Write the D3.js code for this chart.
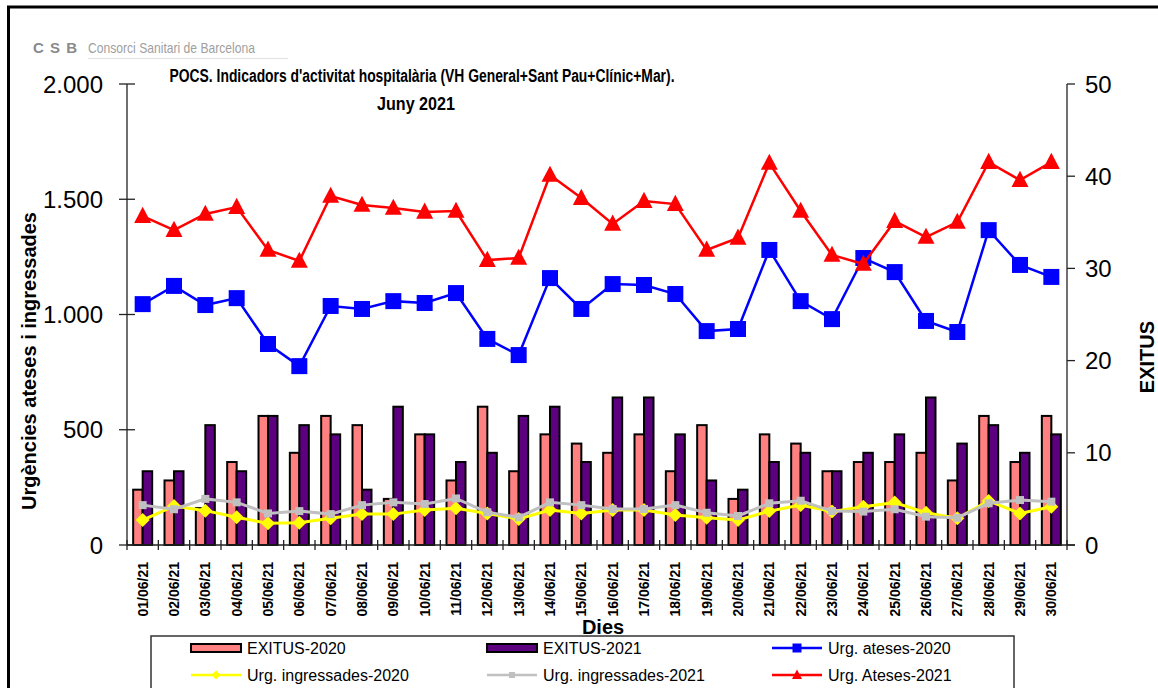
<!DOCTYPE html>
<html>
<head>
<meta charset="utf-8">
<script src="https://cdn.jsdelivr.net/npm/d3@7"></script>
<style>
  body { margin: 0; background: #fff; }
  svg { font-family: 'Liberation Sans', Arial, sans-serif; display: block; }
</style>
</head>
<body>
<script>
// chart values
const days = ['01/06/21','02/06/21','03/06/21','04/06/21','05/06/21','06/06/21','07/06/21','08/06/21','09/06/21','10/06/21',
  '11/06/21','12/06/21','13/06/21','14/06/21','15/06/21','16/06/21','17/06/21','18/06/21','19/06/21','20/06/21',
  '21/06/21','22/06/21','23/06/21','24/06/21','25/06/21','26/06/21','27/06/21','28/06/21','29/06/21','30/06/21']
const exitus2020 = [6, 7, 4, 9, 14, 10, 14, 13, 5, 12, 7, 15, 8, 12, 11, 10, 12, 8, 13, 5, 12, 11, 8, 9, 9, 10, 7, 14, 9, 14]
const exitus2021 = [8, 8, 13, 8, 14, 13, 12, 6, 15, 12, 9, 10, 14, 15, 9, 16, 16, 12, 7, 6, 9, 10, 8, 10, 12, 16, 11, 13, 10, 12]
const ateses2020 = [1045, 1124, 1041, 1071, 872, 776, 1037, 1024, 1058, 1050, 1093, 894, 824, 1158, 1024,
  1132, 1128, 1089, 928, 937, 1280, 1058, 980, 1245, 1184, 972, 924, 1366, 1215, 1163]
const ateses2021 = [1427, 1366, 1436, 1466, 1280, 1232, 1514, 1475, 1462, 1445, 1449, 1236, 1245, 1605, 1505,
  1393, 1492, 1479, 1280, 1332, 1657, 1449, 1258, 1219, 1405, 1336, 1401, 1661, 1583, 1661]
const ingressades2020 = [108, 169, 149, 120, 94, 97, 116, 134, 134, 152, 159, 137, 113, 152, 137,
  152, 152, 130, 118, 108, 147, 173, 145, 166, 184, 140, 116, 191, 137, 166]
const ingressades2021 = [173, 155, 200, 185, 137, 147, 134, 173, 185, 178, 202, 142, 120, 185, 173,
  156, 156, 173, 140, 126, 181, 192, 147, 145, 155, 123, 118, 181, 195, 188]
const leftTicks = [0, 500, 1000, 1500, 2000]
const rightTicks = [0, 10, 20, 30, 40, 50]

const W = 1158, H = 688
const svg = d3.select('body').append('svg')
    .attr('width', W)
    .attr('height', H)

// outer frame
svg.append('rect')
    .attr('x', 8.5).attr('y', 7)
    .attr('width', 1170).attr('height', 720)
    .attr('fill', 'none')
    .attr('stroke', '#000')
    .attr('stroke-width', 3)

// logo
svg.append('text')
    .attr('x', 33).attr('y', 53)
    .style('font-size', '15px').style('font-weight', 'bold')
    .attr('fill', '#8a8a8a')
    .attr('textLength', 44).attr('lengthAdjust', 'spacing')
    .text('C S B')
svg.append('text')
    .attr('x', 88).attr('y', 53)
    .style('font-size', '15px')
    .attr('fill', '#a0a0a0')
    .attr('textLength', 167).attr('lengthAdjust', 'spacingAndGlyphs')
    .text('Consorci Sanitari de Barcelona')
svg.append('line')
    .attr('x1', 88).attr('x2', 288)
    .attr('y1', 58.5).attr('y2', 58.5)
    .attr('stroke', '#e2e2e2')

const x0 = 127, x1 = 1067, yTop = 84, yBot = 545

const xScale = d3.scaleBand()
    .domain(days)
    .range([x0, x1])
    .padding(0)

const yLeft = d3.scaleLinear()
    .domain([0, 2000])
    .range([yBot, yTop])

const yRight = d3.scaleLinear()
    .domain([0, 50])
    .range([yBot, yTop])

// title
svg.append('text')
    .attr('x', 422).attr('y', 82)
    .attr('text-anchor', 'middle')
    .style('font-size', '18px').style('font-weight', 'bold')
    .attr('textLength', 505).attr('lengthAdjust', 'spacingAndGlyphs')
    .text("POCS.  Indicadors d'activitat hospitalària (VH General+Sant Pau+Clínic+Mar).")
svg.append('text')
    .attr('x', 416).attr('y', 110)
    .attr('text-anchor', 'middle')
    .style('font-size', '18px').style('font-weight', 'bold')
    .attr('textLength', 78).attr('lengthAdjust', 'spacingAndGlyphs')
    .text('Juny 2021')

// bars (right axis)
const bw = 9.5
svg.selectAll('.bar2020')
    .data(exitus2020)
    .enter().append('rect')
    .attr('class', 'bar2020')
    .attr('x', (d, i) => xScale(days[i]) + xScale.bandwidth() / 2 - bw)
    .attr('y', d => yRight(d))
    .attr('width', bw)
    .attr('height', d => yBot - yRight(d))
    .attr('fill', '#ff8080')
    .attr('stroke', '#000')
    .attr('stroke-width', 2)

svg.selectAll('.bar2021')
    .data(exitus2021)
    .enter().append('rect')
    .attr('class', 'bar2021')
    .attr('x', (d, i) => xScale(days[i]) + xScale.bandwidth() / 2)
    .attr('y', d => yRight(d))
    .attr('width', bw)
    .attr('height', d => yBot - yRight(d))
    .attr('fill', '#5c0080')
    .attr('stroke', '#000')
    .attr('stroke-width', 2)

// axes
const axisLine = (xa, ya, xb, yb) => svg.append('line')
    .attr('x1', xa).attr('y1', ya).attr('x2', xb).attr('y2', yb)
    .attr('stroke', '#222').attr('stroke-width', 1.3)

axisLine(x0, yTop, x0, yBot)
axisLine(x1, yTop, x1, yBot)
axisLine(x0, yBot, x1 + 8, yBot)

leftTicks.forEach(t => {
    axisLine(x0 - 8, yLeft(t), x0 + 8, yLeft(t))
    svg.append('text')
        .attr('x', 103).attr('y', yLeft(t))
        .attr('dy', '0.36em')
        .attr('text-anchor', 'end')
        .style('font-size', '24px')
        .text(d3.format(',')(t).replace(',', '.'))
})
rightTicks.forEach(t => {
    axisLine(x1, yRight(t), x1 + 8, yRight(t))
    svg.append('text')
        .attr('x', 1085).attr('y', yRight(t))
        .attr('dy', '0.36em')
        .style('font-size', '24px')
        .text(t)
})
d3.range(days.length + 1).forEach(i => {
    const xx = x0 + i * xScale.bandwidth()
    axisLine(xx, yBot - 5, xx, yBot + 5)
})

svg.selectAll('.xlabel')
    .data(days)
    .enter().append('text')
    .attr('class', 'xlabel')
    .attr('transform', d => `translate(${xScale(d) + xScale.bandwidth() / 2 + 5}, 562) rotate(-90)`)
    .attr('text-anchor', 'end')
    .style('font-size', '14px').style('font-weight', 'bold')
    .text(d => d)

svg.append('text')
    .attr('x', 603).attr('y', 634)
    .attr('text-anchor', 'middle')
    .style('font-size', '20px').style('font-weight', 'bold')
    .text('Dies')

svg.append('text')
    .attr('transform', 'translate(36, 361) rotate(-90)')
    .attr('text-anchor', 'middle')
    .style('font-size', '20px').style('font-weight', 'bold')
    .text('Urgències ateses i ingressades')

svg.append('text')
    .attr('transform', 'translate(1154, 357) rotate(-90)')
    .attr('text-anchor', 'middle')
    .style('font-size', '20px').style('font-weight', 'bold')
    .text('EXITUS')

// markers
const square = s => `M${-s/2},${-s/2}h${s}v${s}h${-s}Z`
const diamond = s => `M0,${-s/2}L${s/2},0L0,${s/2}L${-s/2},0Z`
const triangle = s => `M0,${-s*0.55}L${s/2},${s*0.4}L${-s/2},${s*0.4}Z`

const series = [
    { name: 'yellow', values: ingressades2020, color: '#ffff00', width: 3, marker: diamond, size: 14 },
    { name: 'grey', values: ingressades2021, color: '#c0c0c0', width: 3, marker: square, size: 8 },
    { name: 'blue', values: ateses2020, color: '#0000ff', width: 2.5, marker: square, size: 16 },
    { name: 'red', values: ateses2021, color: '#ff0000', width: 2.5, marker: triangle, size: 17 }
]

const line = d3.line()
    .x((d, i) => xScale(days[i]) + xScale.bandwidth() / 2)
    .y(d => yLeft(d))

series.forEach(s => {
    svg.append('path')
        .datum(s.values)
        .attr('d', line)
        .attr('fill', 'none')
        .attr('stroke', s.color)
        .attr('stroke-width', s.width)
    svg.selectAll('.m-' + s.name)
        .data(s.values)
        .enter().append('path')
        .attr('class', 'm-' + s.name)
        .attr('transform', (d, i) => `translate(${xScale(days[i]) + xScale.bandwidth() / 2}, ${yLeft(d)})`)
        .attr('d', s.marker(s.size))
        .attr('fill', s.color)
})

// legend
svg.append('rect')
    .attr('x', 151).attr('y', 636)
    .attr('width', 863).attr('height', 80)
    .attr('fill', '#fff')
    .attr('stroke', '#333')
    .attr('stroke-width', 1.5)

const legendItems = [
    { label: 'EXITUS-2020', type: 'bar', color: '#ff8080', col: 0, row: 0 },
    { label: 'EXITUS-2021', type: 'bar', color: '#5c0080', col: 1, row: 0 },
    { label: 'Urg. ateses-2020', type: 'line', color: '#0000ff', marker: square, size: 9, col: 2, row: 0 },
    { label: 'Urg. ingressades-2020', type: 'line', color: '#ffff00', marker: diamond, size: 9, col: 0, row: 1 },
    { label: 'Urg. ingressades-2021', type: 'line', color: '#c0c0c0', marker: square, size: 6, col: 1, row: 1 },
    { label: 'Urg. Ateses-2021', type: 'line', color: '#ff0000', marker: triangle, size: 10, col: 2, row: 1 }
]
const colX = [191, 487, 772]
const rowY = [648, 675]

legendItems.forEach(it => {
    const lx = colX[it.col], ly = rowY[it.row]
    if (it.type === 'bar') {
        svg.append('rect')
            .attr('x', lx).attr('y', ly - 4)
            .attr('width', 50).attr('height', 8)
            .attr('fill', it.color)
            .attr('stroke', '#000').attr('stroke-width', 2)
    } else {
        svg.append('line')
            .attr('x1', lx).attr('x2', lx + 50)
            .attr('y1', ly).attr('y2', ly)
            .attr('stroke', it.color).attr('stroke-width', 2.5)
        svg.append('path')
            .attr('transform', `translate(${lx + 25}, ${ly})`)
            .attr('d', it.marker(it.size))
            .attr('fill', it.color)
    }
    svg.append('text')
        .attr('x', lx + 56).attr('y', ly)
        .attr('dy', '0.36em')
        .style('font-size', '16px')
        .text(it.label)
})
</script>
</body>
</html>
